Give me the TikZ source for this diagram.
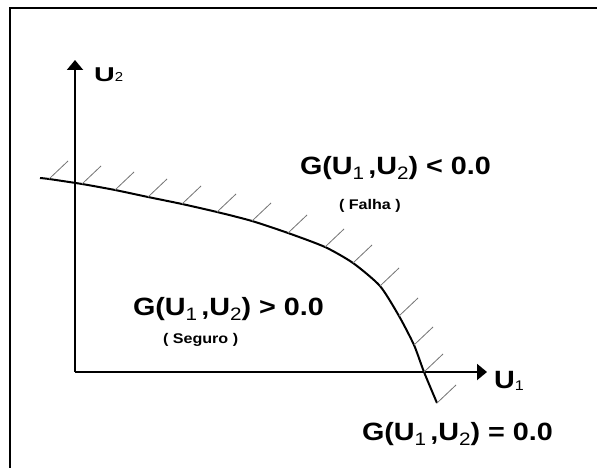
\documentclass[tikz,border=0pt]{standalone}
\usepackage{fontspec}
\newfontfamily\lab[FakeStretch=1.15]{Liberation Sans}
\usetikzlibrary{arrows.meta}
\newcommand{\subn}[2][-5pt]{\raisebox{#1}{\fontsize{18}{18}\selectfont\mdseries #2}}
\newcommand{\Gexp}[1]{{\lab\bfseries\fontsize{25}{25}\selectfont G(U\subn{1}\,,U\subn{2}) #1 0.0}}
\tikzset{
  frame/.style={line width=2pt, draw=black},
  axis/.style={line width=2pt, -{Triangle[length=10pt,width=16pt]}},
  lsf/.style={line width=2pt, line join=round},
  hatch/.style={line width=0.8pt, draw=black!55},
  txt/.style={anchor=base west, inner sep=0pt, outer sep=0pt},
}
\begin{document}
\begin{tikzpicture}[x=1pt,y=-1pt]
\useasboundingbox (0,0) rectangle (597,468);
\clip (0,0) rectangle (597,468);
\fill[white] (0,0) rectangle (597,468);
\draw[frame] (10,8) rectangle (620,490);
% origin and axis ends
\coordinate (O) at (75,372);
\coordinate (Y) at (75,60);
\coordinate (X) at (487,372);
\draw[axis] (O) -- (Y);
\draw[axis] (O) -- (X);
% limit state curve
\foreach \n/\p in {0/{40,178},1/{49,179},2/{82,184},3/{115,190},4/{148,197},5/{182,204},6/{217,212},7/{252,221},8/{288,233},9/{325,247},10/{353,263},11/{380,286},12/{399,316},13/{414,345},14/{424,372},15/{437,403}}
  \coordinate (c\n) at (\p);
\draw[lsf] plot[smooth, tension=0.4] coordinates {(c0) (c1) (c2) (c3) (c4) (c5) (c6) (c7) (c8) (c9) (c10) (c11) (c12) (c13) (c14) (c15)};
\foreach \n in {1,...,15}
  \draw[hatch] (c\n) -- ++(19,-18);
% labels
\node[txt] (u2) at (94,82) {\lab\bfseries\fontsize{20}{20}\selectfont\scalebox{1.25}[1]{U}\raisebox{0pt}{\fontsize{13}{13}\selectfont\mdseries 2}};
\node[txt] (u1) at (494,388) {\lab\bfseries\fontsize{25}{25}\selectfont U\raisebox{-2pt}{\fontsize{14}{14}\selectfont\mdseries 1}};
\node[txt] (gf) at (300,175) {\Gexp{<}};
\node[txt] (falha) at (339,209) {\lab\bfseries\fontsize{14}{14}\selectfont ( Falha )};
\node[txt] (gs) at (133,315) {\Gexp{>}};
\node[txt] (seguro) at (163,343) {\lab\bfseries\fontsize{14}{14}\selectfont ( Seguro )};
\node[txt] (gz) at (362,440) {\Gexp{=}};
\end{tikzpicture}
\end{document}
